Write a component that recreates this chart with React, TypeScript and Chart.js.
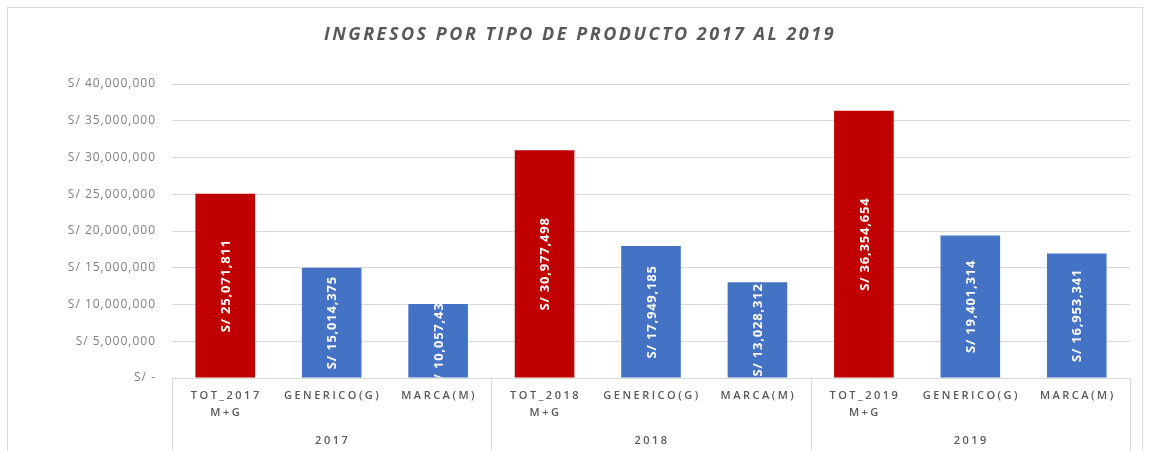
import { useEffect, useRef } from 'react';
import { Chart, registerables } from 'chart.js';

Chart.register(...registerables);

const chartTitle = 'INGRESOS POR TIPO DE PRODUCTO 2017 AL 2019';
const categories: (string | string[])[] = [
  ['TOT_2017', 'M+G'], 'GENERICO(G)', 'MARCA(M)',
  ['TOT_2018', 'M+G'], 'GENERICO(G)', 'MARCA(M)',
  ['TOT_2019', 'M+G'], 'GENERICO(G)', 'MARCA(M)',
];
const years = ['2017', '2018', '2019'];
const ingresos = [25071811, 15014375, 10057430, 30977498, 17949185, 13028312, 36354654, 19401314, 16953341];
const barColors = ['#C00000', '#4472C4', '#4472C4', '#C00000', '#4472C4', '#4472C4', '#C00000', '#4472C4', '#4472C4'];
const yMin = 0;
const yMax = 40000000;
const yStep = 5000000;

const fmt = (v: number) => (v === 0 ? 'S/ -' : 'S/ ' + v.toLocaleString('en-US'));

const decorPlugin = {
  id: 'decor',
  beforeDraw(chart: any) {
    const { ctx, width, height } = chart;
    ctx.save();
    ctx.fillStyle = '#ffffff';
    ctx.fillRect(0, 0, width, height);
    ctx.strokeStyle = '#d9d9d9';
    ctx.lineWidth = 1;
    ctx.strokeRect(7.5, 7.5, 1135, height + 10);
    ctx.restore();
    // spacing for the axis tick labels drawn next
    (ctx as any).letterSpacing = '1px';
  },
  afterDatasetsDraw(chart: any) {
    const { ctx } = chart;
    const meta = chart.getDatasetMeta(0);
    ctx.save();
    (ctx as any).letterSpacing = '0.8px';
    ctx.fillStyle = '#ffffff';
    ctx.font = 'bold 13px "Open Sans"';
    ctx.textAlign = 'center';
    ctx.textBaseline = 'middle';
    meta.data.forEach((bar: any, i: number) => {
      const { x, y, base, width } = bar.getProps(['x', 'y', 'base', 'width'], true);
      ctx.save();
      ctx.beginPath();
      ctx.rect(x - width / 2, y, width, base - y);
      ctx.clip();
      ctx.translate(x, (y + base) / 2);
      ctx.rotate(-Math.PI / 2);
      ctx.fillText(fmt(ingresos[i]), 0, 1);
      ctx.restore();
    });
    ctx.restore();
  },
  afterDraw(chart: any) {
    const { ctx, chartArea, height } = chart;
    const xs = chart.scales.x;
    ctx.save();
    // title
    ctx.fillStyle = '#595959';
    ctx.font = 'italic bold 18px "Open Sans"';
    (ctx as any).letterSpacing = '2.5px';
    ctx.textAlign = 'center';
    ctx.textBaseline = 'middle';
    ctx.fillText(chartTitle, 580, 35);

    // category labels
    ctx.font = '600 11px "Open Sans"';
    (ctx as any).letterSpacing = '2.5px';
    ctx.fillStyle = '#595959';
    categories.forEach((lab, i) => {
      const px = xs.getPixelForValue(i);
      const lines = Array.isArray(lab) ? lab : [lab];
      lines.forEach((ln, k) => {
        ctx.fillText(ln, px + 1, chartArea.bottom + 18 + k * 17);
      });
    });

    // group separators and year labels
    const per = categories.length / years.length;
    const bounds: number[] = [xs.left];
    for (let g = 1; g < years.length; g++) {
      bounds.push((xs.getPixelForValue(g * per - 1) + xs.getPixelForValue(g * per)) / 2);
    }
    bounds.push(xs.right);
    ctx.strokeStyle = '#d9d9d9';
    ctx.lineWidth = 1;
    bounds.forEach((b) => {
      ctx.beginPath();
      ctx.moveTo(Math.round(b) + 0.5, chartArea.bottom);
      ctx.lineTo(Math.round(b) + 0.5, height);
      ctx.stroke();
    });
    years.forEach((yr, g) => {
      const cx = (bounds[g] + bounds[g + 1]) / 2;
      ctx.fillText(yr, cx + 1, chartArea.bottom + 63);
    });
    ctx.restore();
    (ctx as any).letterSpacing = '0px';
  },
};

export default function App() {
  const ref = useRef<HTMLCanvasElement>(null);
  useEffect(() => {
    if (!ref.current) return;
    const chart = new Chart(ref.current, {
      type: 'bar',
      data: {
        labels: categories,
        datasets: [
          {
            data: ingresos,
            backgroundColor: barColors,
            barPercentage: 0.56,
            categoryPercentage: 1,
          },
        ],
      },
      options: {
        responsive: false,
        animation: false,
        layout: { padding: { top: 84, right: 19, bottom: 0, left: 0 } },
        plugins: {
          legend: { display: false },
          tooltip: { enabled: false },
          title: { display: false },
        },
        scales: {
          x: {
            type: 'category',
            offset: true,
            grid: { display: false },
            border: { display: true, color: '#d9d9d9' },
            ticks: { display: false },
            afterFit: (s: any) => {
              s.height = 73;
            },
          },
          y: {
            min: yMin,
            max: yMax,
            ticks: {
              stepSize: yStep,
              padding: 16,
              color: '#808080',
              font: { family: '"Open Sans"', size: 12 },
              callback: (v: any) => fmt(Number(v)),
            },
            grid: { color: '#d9d9d9', drawTicks: false },
            border: { display: false },
            afterFit: (s: any) => {
              s.width = 172;
            },
          },
        },
      },
      plugins: [decorPlugin],
    });
    return () => chart.destroy();
  }, []);
  return (
    <div style={{ position: 'absolute', left: 0, top: 0, width: 1149, height: 451 }}>
      <canvas ref={ref} width={1149} height={451} style={{ display: 'block' }} />
    </div>
  );
}
